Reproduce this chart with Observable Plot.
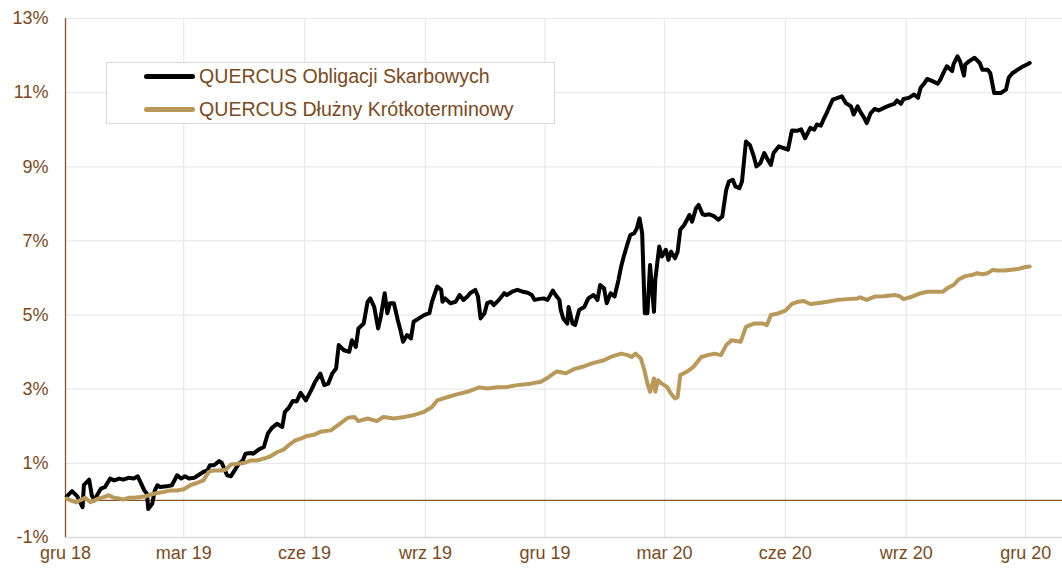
<!DOCTYPE html>
<html>
<head>
<meta charset="utf-8">
<script src="https://cdn.jsdelivr.net/npm/d3@7"></script>
<script src="https://cdn.jsdelivr.net/npm/@observablehq/plot@0.6"></script>
<style>
  html, body { margin: 0; padding: 0; background: #fff; }
  #wrap { position: relative; width: 1062px; height: 569px; font-family: "Liberation Sans", Arial, sans-serif; }
  #legend { position: absolute; left: 106px; top: 62px; width: 447px; height: 60px; border: 1.5px solid #d9d9d9; background: #fff; }
  .row { position: absolute; left: 37px; display: flex; align-items: center; font-size: 19.6px; color: #7a4a1e; white-space: nowrap; }
  .sw { width: 51px; height: 4.5px; border-radius: 3px; margin-right: 4px; }
</style>
</head>
<body>
<div id="wrap">
  <div id="chart"></div>
  <div id="legend">
    <div class="row" style="top:2px"><span class="sw" style="background:#000"></span><span>QUERCUS Obligacji Skarbowych</span></div>
    <div class="row" style="top:35px"><span class="sw" style="background:#b8995a"></span><span>QUERCUS Dłużny Krótkoterminowy</span></div>
  </div>
</div>
<script>
const monthNames = ["sty","lut","mar","kwi","maj","cze","lip","sie","wrz","paź","lis","gru"];
const xTickDates = ["2018-12-01","2019-03-01","2019-06-01","2019-09-01","2019-12-01","2020-03-01","2020-06-01","2020-09-01","2020-12-01"];
const yTicks = [-1, 1, 3, 5, 7, 9, 11, 13];
const seriesNames = ["QUERCUS Obligacji Skarbowych", "QUERCUS Dłużny Krótkoterminowy"];

const blackDates = ["2018-12-02","2018-12-06","2018-12-10","2018-12-14","2018-12-15","2018-12-19","2018-12-21","2018-12-23","2018-12-25","2018-12-28","2018-12-31",
"2019-01-04","2019-01-07","2019-01-11","2019-01-14","2019-01-18","2019-01-22","2019-01-25","2019-01-27","2019-01-30",
"2019-02-01","2019-02-02","2019-02-05","2019-02-07","2019-02-09","2019-02-11","2019-02-16","2019-02-20","2019-02-24","2019-02-27",
"2019-03-02","2019-03-05","2019-03-09","2019-03-12","2019-03-16","2019-03-19","2019-03-21","2019-03-24","2019-03-28","2019-03-30",
"2019-04-03","2019-04-06","2019-04-08","2019-04-12","2019-04-15","2019-04-17","2019-04-21","2019-04-23","2019-04-27",
"2019-05-01","2019-05-04","2019-05-07","2019-05-11","2019-05-15","2019-05-17","2019-05-20","2019-05-23","2019-05-26","2019-05-29",
"2019-06-02","2019-06-06","2019-06-09","2019-06-13","2019-06-16","2019-06-19","2019-06-22","2019-06-25","2019-06-27",
"2019-07-01","2019-07-05","2019-07-07","2019-07-10","2019-07-12","2019-07-16","2019-07-19","2019-07-21","2019-07-24","2019-07-27","2019-07-29",
"2019-08-01","2019-08-03","2019-08-05","2019-08-08","2019-08-11","2019-08-13","2019-08-15","2019-08-18","2019-08-21","2019-08-23","2019-08-27","2019-08-31",
"2019-09-04","2019-09-06","2019-09-10","2019-09-13","2019-09-14","2019-09-16","2019-09-20","2019-09-24","2019-09-27","2019-09-30",
"2019-10-03","2019-10-05","2019-10-09","2019-10-11","2019-10-13","2019-10-16","2019-10-18","2019-10-21","2019-10-23","2019-10-27","2019-10-31",
"2019-11-02","2019-11-06","2019-11-10","2019-11-14","2019-11-18","2019-11-21","2019-11-23","2019-11-26","2019-11-30",
"2019-12-03","2019-12-07","2019-12-10","2019-12-12","2019-12-13","2019-12-15","2019-12-18","2019-12-19","2019-12-22","2019-12-24","2019-12-27","2019-12-31",
"2020-01-03","2020-01-07","2020-01-10","2020-01-12","2020-01-15","2020-01-17","2020-01-20","2020-01-23","2020-01-26","2020-01-28","2020-01-30",
"2020-02-02","2020-02-04","2020-02-07","2020-02-09","2020-02-11","2020-02-13","2020-02-15","2020-02-17","2020-02-19","2020-02-22","2020-02-23","2020-02-26","2020-02-28",
"2020-03-02","2020-03-04","2020-03-06","2020-03-09","2020-03-11","2020-03-13","2020-03-16","2020-03-20","2020-03-22","2020-03-25","2020-03-27","2020-03-30",
"2020-04-01","2020-04-04","2020-04-08","2020-04-11","2020-04-14","2020-04-17","2020-04-19","2020-04-22","2020-04-24","2020-04-27","2020-04-29",
"2020-05-02","2020-05-05","2020-05-08","2020-05-10","2020-05-13","2020-05-16","2020-05-18","2020-05-21","2020-05-23","2020-05-27","2020-05-31",
"2020-06-03","2020-06-06","2020-06-10","2020-06-13","2020-06-16","2020-06-20","2020-06-23","2020-06-25","2020-06-28","2020-06-30",
"2020-07-03","2020-07-07","2020-07-11","2020-07-14","2020-07-17","2020-07-21","2020-07-23","2020-07-26","2020-07-28","2020-07-31",
"2020-08-02","2020-08-05","2020-08-08","2020-08-11","2020-08-15","2020-08-19","2020-08-23","2020-08-25","2020-08-28","2020-08-30",
"2020-09-03","2020-09-07","2020-09-10","2020-09-12","2020-09-15","2020-09-17","2020-09-21","2020-09-25","2020-09-27","2020-09-30",
"2020-10-02","2020-10-06","2020-10-07","2020-10-10","2020-10-12","2020-10-15","2020-10-16","2020-10-19","2020-10-23","2020-10-27","2020-10-29",
"2020-11-02","2020-11-04","2020-11-07","2020-11-12","2020-11-16","2020-11-18","2020-11-21","2020-11-25","2020-11-28",
"2020-12-02","2020-12-04"];
const blackValues = [0.11,0.25,0.11,-0.18,0.41,0.56,0.14,0.0,0.14,0.32,0.36,
0.59,0.54,0.59,0.56,0.61,0.59,0.65,0.5,0.27,
0.18,-0.23,-0.09,0.27,0.41,0.36,0.38,0.41,0.68,0.59,
0.65,0.59,0.61,0.68,0.77,0.81,0.95,0.95,1.06,1.01,
0.68,0.65,0.77,0.99,1.08,1.26,1.28,1.26,1.37,
1.44,1.8,1.95,2.07,1.98,2.39,2.5,2.68,2.67,2.9,
2.7,2.97,3.2,3.42,3.11,3.15,3.42,3.56,4.19,
4.05,4.01,4.32,4.14,4.64,4.77,5.36,5.45,5.22,4.64,4.95,
5.59,5.05,5.32,5.32,4.86,4.59,4.28,4.46,4.37,4.82,4.91,5.0,
5.05,5.36,5.77,5.68,5.36,5.45,5.32,5.36,5.54,5.41,
5.5,5.59,5.68,5.5,4.91,5.05,5.32,5.36,5.27,5.41,5.59,
5.54,5.63,5.68,5.63,5.6,5.54,5.41,5.43,5.45,
5.41,5.66,5.5,5.41,5.14,4.9,4.77,5.22,4.77,4.73,5.14,5.22,
5.45,5.54,5.41,5.81,5.72,5.32,5.59,5.5,5.95,6.31,6.58,
6.94,7.16,7.21,7.34,7.61,7.21,5.05,5.05,6.35,5.09,5.95,6.85,6.58,
6.76,6.49,6.71,6.53,6.71,7.3,7.43,7.7,7.52,7.88,7.97,7.72,
7.7,7.72,7.66,7.57,7.66,8.38,8.6,8.65,8.47,8.42,8.6,
9.68,9.59,9.28,9.01,9.1,9.37,9.23,9.05,9.37,9.55,9.5,
9.46,9.98,9.97,10.01,9.77,10.05,10.0,10.14,10.11,10.27,
10.49,10.81,10.86,10.9,10.72,10.63,10.41,10.63,10.49,10.32,
10.18,10.45,10.56,10.52,10.59,10.65,10.7,10.79,10.7,10.83,
10.86,10.95,10.86,11.13,11.26,11.37,11.31,11.24,11.35,11.58,
11.71,11.58,11.76,11.98,11.85,11.46,11.76,11.85,11.94,11.8,11.62,
11.62,11.53,10.99,10.99,11.08,11.4,11.53,11.62,11.69,
11.76,11.8];

const goldDates = ["2018-12-02","2018-12-05","2018-12-09","2018-12-12","2018-12-16","2018-12-20","2018-12-23","2018-12-26","2018-12-30",
"2019-01-03","2019-01-07","2019-01-11","2019-01-14","2019-01-18","2019-01-22","2019-01-27","2019-01-31",
"2019-02-04","2019-02-09","2019-02-14","2019-02-19","2019-02-24",
"2019-03-01","2019-03-06","2019-03-11","2019-03-16","2019-03-20","2019-03-24","2019-03-29",
"2019-04-02","2019-04-06","2019-04-11","2019-04-16","2019-04-21","2019-04-26",
"2019-05-01","2019-05-06","2019-05-11","2019-05-16","2019-05-21","2019-05-25","2019-05-29",
"2019-06-03","2019-06-08","2019-06-13","2019-06-21","2019-06-28",
"2019-07-04","2019-07-09","2019-07-12","2019-07-19","2019-07-26","2019-07-31",
"2019-08-08","2019-08-16","2019-08-23","2019-08-31",
"2019-09-06","2019-09-10","2019-09-18","2019-09-25",
"2019-10-03","2019-10-12","2019-10-18","2019-10-26",
"2019-11-02","2019-11-10","2019-11-20","2019-11-28",
"2019-12-04","2019-12-10","2019-12-17","2019-12-23","2019-12-31",
"2020-01-07","2020-01-15","2020-01-20","2020-01-28",
"2020-02-02","2020-02-05","2020-02-08","2020-02-12","2020-02-15","2020-02-17","2020-02-19","2020-02-22","2020-02-23","2020-02-25","2020-02-28",
"2020-03-03","2020-03-06","2020-03-09","2020-03-11","2020-03-13","2020-03-18","2020-03-23","2020-03-29",
"2020-04-03","2020-04-08","2020-04-13","2020-04-17","2020-04-21","2020-04-28",
"2020-05-02","2020-05-08","2020-05-15","2020-05-18","2020-05-21","2020-05-27",
"2020-06-01","2020-06-06","2020-06-11","2020-06-15","2020-06-20","2020-06-25",
"2020-07-03","2020-07-11","2020-07-18","2020-07-26","2020-07-28",
"2020-08-02","2020-08-08","2020-08-15","2020-08-23","2020-08-27","2020-08-30",
"2020-09-04","2020-09-12","2020-09-17","2020-09-29",
"2020-10-02","2020-10-07","2020-10-11","2020-10-16","2020-10-21","2020-10-25","2020-10-29",
"2020-11-02","2020-11-06","2020-11-09","2020-11-15","2020-11-20","2020-11-25","2020-11-30",
"2020-12-04"];
const goldValues = [0.05,0.0,-0.05,0.0,0.07,-0.05,0.0,0.05,0.09,
0.14,0.07,0.05,0.02,0.07,0.07,0.09,0.11,
0.16,0.2,0.23,0.27,0.27,
0.3,0.41,0.47,0.54,0.77,0.81,0.81,
0.83,0.97,0.99,1.01,1.08,1.08,
1.13,1.19,1.3,1.37,1.52,1.62,1.67,
1.74,1.77,1.85,1.89,2.07,
2.23,2.25,2.14,2.21,2.14,2.25,
2.21,2.25,2.3,2.39,
2.52,2.7,2.79,2.86,
2.93,3.05,3.02,3.05,
3.06,3.11,3.15,3.2,
3.33,3.48,3.43,3.54,3.62,
3.71,3.78,3.87,3.96,
3.92,3.87,3.96,3.83,3.47,3.15,2.93,3.29,2.93,3.24,3.15,
3.06,2.88,2.75,2.79,3.38,3.47,3.6,3.87,
3.92,3.96,3.92,4.19,4.32,4.28,
4.68,4.77,4.77,4.73,5.0,5.05,
5.12,5.3,5.36,5.38,5.3,5.32,
5.36,5.41,5.43,5.45,5.48,
5.41,5.5,5.51,5.54,5.51,5.43,
5.48,5.59,5.63,5.63,
5.72,5.81,5.96,6.05,6.08,6.13,6.1,
6.13,6.22,6.2,6.2,6.22,6.24,6.29,
6.31];

const brownText = "#7a4a1e";
const brownLine = "#8a5528";
const parse = d3.utcParse("%Y-%m-%d");
const xDomain = [parse("2018-12-01"), parse("2020-12-29")];
const xTicks = xTickDates.map(parse);

const black = blackDates.map((d, i) => ({date: parse(d), value: blackValues[i], series: seriesNames[0]}));
const gold = goldDates.map((d, i) => ({date: parse(d), value: goldValues[i], series: seriesNames[1]}));

const chart = Plot.plot({
  width: 1062,
  height: 569,
  marginLeft: 65,
  marginRight: 0,
  marginTop: 18,
  marginBottom: 32,
  style: {fontFamily: "'Liberation Sans', Arial, sans-serif", background: "#fff"},
  x: {type: "utc", domain: xDomain, label: null},
  y: {domain: [-1, 13], label: null},
  marks: [
    Plot.gridX(xTicks, {stroke: "#e8e8e8", strokeOpacity: 1, strokeWidth: 1.2}),
    Plot.gridY(yTicks, {stroke: "#e8e8e8", strokeOpacity: 1, strokeWidth: 1.2}),
    Plot.ruleY([-1], {stroke: "#d9d9d9", strokeWidth: 1.5}),
    Plot.ruleY([0], {stroke: brownLine, strokeWidth: 1.3}),
    Plot.ruleX([xDomain[0]], {stroke: brownLine, strokeWidth: 1.3}),
    Plot.axisX(xTicks, {tickSize: 0, tickPadding: 9, fontSize: 18, fill: brownText,
      tickFormat: d => monthNames[d.getUTCMonth()] + " " + String(d.getUTCFullYear()).slice(2)}),
    Plot.axisY(yTicks, {tickSize: 0, tickPadding: 17, fontSize: 18, fill: brownText,
      tickFormat: d => d + "%"}),
    Plot.line(black, {x: "date", y: "value", stroke: "#000", strokeWidth: 4, strokeLinejoin: "round", strokeLinecap: "round"}),
    Plot.line(gold, {x: "date", y: "value", stroke: "#b8995a", strokeWidth: 4, strokeLinejoin: "round", strokeLinecap: "round"})
  ]
});
document.getElementById("chart").appendChild(chart);
</script>
</body>
</html>
